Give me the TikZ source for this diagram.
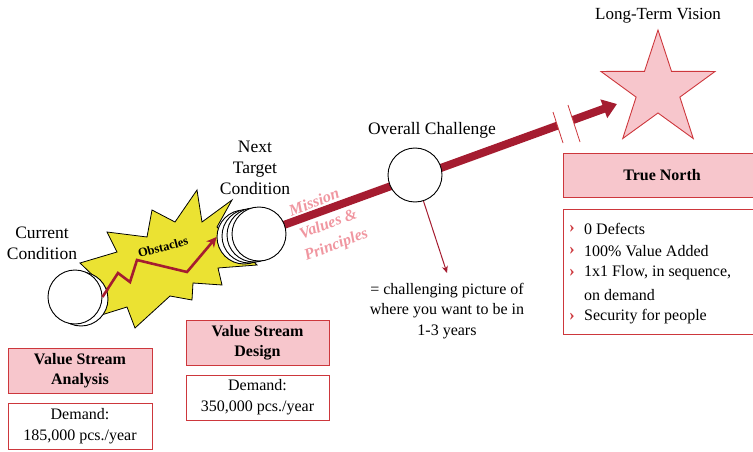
\documentclass[tikz,border=0pt]{standalone}
\usepackage{fontspec}
\setmainfont{Liberation Serif}
\usetikzlibrary{arrows.meta}
\definecolor{arrred}{RGB}{165,28,48}
\definecolor{boxred}{RGB}{205,55,60}
\definecolor{pinkfill}{RGB}{247,198,204}
\definecolor{burst}{RGB}{235,226,50}
\definecolor{pinktext}{RGB}{240,150,160}
\tikzset{
  lbl/.style={align=center,font=\fontsize{17.5}{21}\selectfont,inner sep=0pt},
  cond/.style={circle,draw=black,line width=0.9pt,fill=white,minimum size=54pt,inner sep=0pt},
  pinkbox/.style={draw=boxred,line width=1pt,fill=pinkfill,align=center,inner sep=0pt,font=\fontsize{16}{20}\selectfont\bfseries},
  whitebox/.style={draw=boxred,line width=1pt,fill=white,align=center,inner sep=0pt,font=\fontsize{16}{21}\selectfont},
  pinklbl/.style={text=pinktext,align=center,font=\fontsize{16}{22}\selectfont\bfseries\itshape,rotate=21,inner sep=0pt},
  bul/.style={text=boxred,font=\fontsize{17}{18}\selectfont\bfseries,inner sep=0pt},
  bultxt/.style={anchor=west,font=\fontsize{16}{18}\selectfont,inner sep=0pt}
}
\begin{document}
\begin{tikzpicture}[x=1pt,y=-1pt]
\useasboundingbox (0,0) rectangle (753,452);
\clip (0,0) rectangle (753,452);

% obstacles burst
\draw[fill=burst,draw=black,line width=0.8pt] (80,263) -- (117,252) -- (107,232) -- (147,237) -- (152,210) -- (175,222) -- (197,190) -- (202,222) -- (232,200) -- (217,227) -- (257,265) -- (218,268) -- (222,285) -- (193,283) -- (192,300) -- (170,296) -- (135,328) -- (127,307) -- (95,317) -- (108,290) -- cycle;
\node[font=\fontsize{12.5}{14}\selectfont\bfseries,rotate=15,inner sep=0pt] (obs) at (163,247) {Obstacles};

% current condition
\node[cond] (ccback) at (81,299) {};
\node[cond] (cc) at (75,297) {};
\node[lbl] (cctext) at (42,243) {Current\\Condition};

% thick arrow to long-term vision
\coordinate (tip) at (617,104);
\node[cond,draw=none,fill=none] (ntc) at (259,234) {};
\draw[arrred,line width=8pt,-{Triangle[length=14pt,width=19pt]}] (ntc.center) -- (tip);
\fill[white] (553,112) -- (563,143) -- (580,142) -- (568,105) -- cycle;
\draw[boxred,line width=0.8pt] (553,112) -- (563,143);
\draw[boxred,line width=0.8pt] (568,105) -- (580,142);

% next target condition circles
\node[cond] (nt4) at (244,237) {};
\node[cond] (nt3) at (249,236) {};
\node[cond] (nt2) at (254,235) {};
\node[cond] (nt1) at (259,234) {};
\node[lbl] (nttext) at (255,168) {Next\\Target\\Condition};

% zigzag arrow
\draw[arrred,line width=2.6pt,line join=miter,-{Stealth[length=10pt,width=10pt]}] (cc.east) -- (118,273) -- (130,282) -- (137,260) -- (187,272) -- (nt4.west);

% mission values
\node[pinklbl] (mission) at (314,202) {Mission};
\node[pinklbl] (values) at (332.5,235) {Values \&\\Principles};

% overall challenge
\node[cond] (oc) at (415,175) {};
\node[lbl] (octext) at (432,130) {Overall Challenge};
\coordinate (chaltip) at (447,273);
\draw[arrred,line width=1pt,-{Stealth[length=7pt,width=6pt]}] (oc.288) -- (chaltip);
\node[align=center,font=\fontsize{16}{20.5}\selectfont,inner sep=0pt] (chal) at (447,311) {= challenging picture of\\where you want to be in\\1-3 years};

% long-term vision star
\draw[fill=pinkfill,draw=boxred,line width=0.9pt,shift={(658,90)}] (-90:60) -- (-54:23) -- (-18:60) -- (18:23) -- (54:60) -- (90:23) -- (126:60) -- (162:23) -- (198:60) -- (234:23) -- cycle;
\node[lbl,font=\fontsize{17}{20}\selectfont] (ltv) at (658,16) {Long-Term Vision};

% true north
\node[pinkbox,minimum width=198pt,minimum height=44pt] (tn) at (662,175) {True North};
\node[draw=boxred,line width=1pt,minimum width=198pt,minimum height=125pt,inner sep=0pt] (tnlist) at (662,271.5) {};
\node[bul] (b1) at (572,229) {›};
\node[bul] (b2) at (572,251) {›};
\node[bul] (b3) at (572,273) {›};
\node[bul] (b4) at (572,317) {›};
\node[bultxt] (t1) at (584,229) {0 Defects};
\node[bultxt] (t2) at (584,251) {100\% Value Added};
\node[bultxt] (t3) at (584,273) {1x1 Flow, in sequence,};
\node[bultxt] (t3b) at (584,295) {on demand};
\node[bultxt] (t4) at (584,317) {Security for people};

% value stream boxes
\node[pinkbox,minimum width=144pt,minimum height=45pt] (vsa) at (80,370.5) {Value Stream\\Analysis};
\node[whitebox,minimum width=144pt,minimum height=46pt] (d1) at (80,426) {Demand:\\185,000 pcs./year};
\node[pinkbox,minimum width=143pt,minimum height=45pt] (vsd) at (257.5,342.5) {Value Stream\\Design};
\node[whitebox,minimum width=143pt,minimum height=45pt] (d2) at (257.5,397.5) {Demand:\\350,000 pcs./year};
\end{tikzpicture}
\end{document}
